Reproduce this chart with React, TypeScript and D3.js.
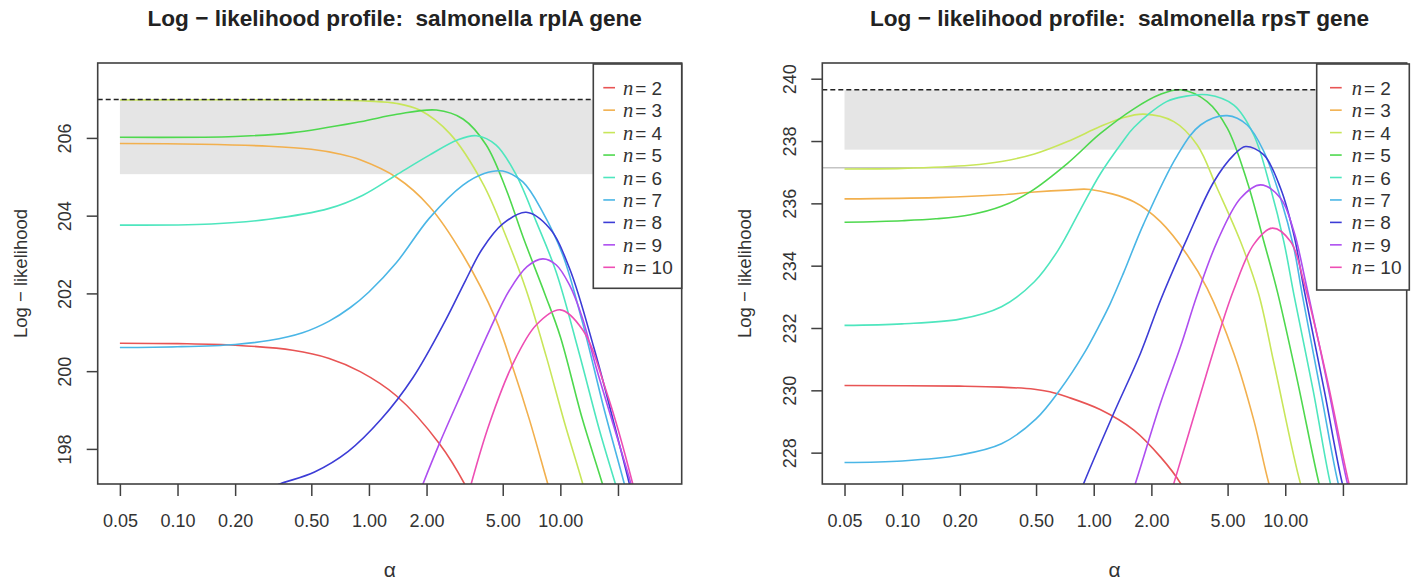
import { useEffect, useRef } from "react";
import * as d3 from "d3";

const nValues = [2, 3, 4, 5, 6, 7, 8, 9, 10];
const lineColors = ["#E85454", "#F2B04E", "#C8E65A", "#4ED84E", "#4EE6BE", "#4AB6E6", "#3C3CD6", "#AE4EF0", "#EE4EB4"];

const alphaTicks = [0.05, 0.1, 0.2, 0.5, 1, 2, 5, 10, 20];
const alphaTickLabels = ["0.05", "0.10", "0.20", "0.50", "1.00", "2.00", "5.00", "10.00", ""];

const rplA_yTicks = [198, 200, 202, 204, 206];
const rpsT_yTicks = [228, 230, 232, 234, 236, 238, 240];

const rplA_max = 207.0;
const rplA_ciLow = 205.08;
const rpsT_max = 239.66;
const rpsT_ciLow = 237.74;
const rpsT_refLine = 237.16;

// [alpha, log-likelihood]
const rplA_n2 = [[0.05, 200.73], [0.1, 200.72], [0.2, 200.68], [0.4, 200.55], [0.62, 200.34], [0.9, 200.0], [1.39, 199.38], [2.34, 198.14], [3.16, 197.11], [4, 196.0]];
const rplA_n3 = [[0.05, 205.87], [0.13, 205.85], [0.3, 205.8], [0.5, 205.72], [0.7, 205.6], [0.9, 205.45], [1.39, 205.0], [2.07, 204.25], [3.1, 203.0], [4.6, 201.35], [5.65, 200.1], [6.9, 198.76], [8.6, 197.11], [10, 196.0]];
const rplA_n4 = [[0.05, 206.99], [0.5, 206.99], [1.0, 206.96], [1.4, 206.9], [1.84, 206.73], [2.64, 206.13], [3.94, 204.84], [5.21, 203.47], [6.63, 202.1], [8.43, 200.4], [10.5, 198.7], [13.1, 197.11], [15, 196.0]];
const rplA_n5 = [[0.05, 206.03], [0.2, 206.05], [0.4, 206.15], [0.9, 206.43], [1.4, 206.62], [2.25, 206.73], [3.1, 206.5], [4.1, 205.83], [5.2, 204.7], [6.4, 203.45], [8.3, 202.0], [10, 200.9], [13, 198.8], [16.6, 197.11], [19, 196.1]];
const rplA_n6 = [[0.05, 203.77], [0.15, 203.8], [0.3, 203.92], [0.62, 204.2], [0.93, 204.54], [1.39, 205.06], [2.07, 205.57], [2.9, 205.96], [3.64, 206.07], [4.62, 205.83], [5.88, 205.06], [7.48, 203.86], [9.5, 202.57], [12.5, 200.5], [16, 198.5], [19.4, 197.11], [22, 196.2]];
const rplA_n7 = [[0.05, 200.62], [0.1, 200.64], [0.2, 200.7], [0.3, 200.8], [0.45, 201.0], [0.62, 201.3], [0.8, 201.65], [1.0, 202.05], [1.39, 202.8], [2.07, 203.95], [3.1, 204.8], [4.0, 205.1], [5.0, 205.16], [6.37, 204.88], [8.1, 204.1], [10.3, 203.0], [13, 201.3], [17, 199.0], [21.6, 197.11], [24, 196.2]];
const rplA_n8 = [[0.25, 196.85], [0.342, 197.11], [0.52, 197.42], [0.78, 197.95], [1.16, 198.78], [1.7, 199.85], [2.5, 201.3], [3.2, 202.35], [3.9, 203.15], [5.0, 203.8], [6.63, 204.1], [8.78, 203.69], [11.16, 202.66], [15, 200.6], [19, 198.7], [22.95, 197.11], [25, 196.3]];
const rplA_n9 = [[1.7, 196.45], [1.915, 197.11], [2.34, 198.16], [3.1, 199.53], [4.27, 201.07], [5.43, 202.1], [6.7, 202.7], [8.1, 202.9], [9.5, 202.75], [11.16, 202.23], [13, 201.4], [15.4, 200.1], [19, 198.6], [23.4, 197.11], [26, 196.2]];
const rplA_n10 = [[3.0, 196.0], [3.42, 197.11], [4.27, 198.68], [5.65, 200.2], [7.48, 201.2], [10, 201.59], [13.1, 201.07], [17.3, 199.53], [23.9, 197.11], [26, 196.3]];

const rpsT_n2 = [[0.05, 230.17], [0.2, 230.15], [0.33, 230.12], [0.49, 230.05], [0.59, 229.97], [0.73, 229.8], [1.08, 229.4], [1.62, 228.74], [2.23, 227.88], [2.84, 227.03], [3.3, 226.2]];
const rpsT_n3 = [[0.05, 236.16], [0.15, 236.2], [0.33, 236.29], [0.49, 236.38], [0.73, 236.44], [0.96, 236.46], [1.62, 236.07], [2.23, 235.43], [3.08, 234.36], [3.91, 233.29], [5.39, 231.2], [6.85, 229.06], [8.21, 227.03], [9.2, 226.1]];
const rpsT_n4 = [[0.05, 237.12], [0.1, 237.14], [0.227, 237.24], [0.33, 237.36], [0.49, 237.6], [0.73, 238.0], [1.08, 238.48], [1.4, 238.75], [1.82, 238.88], [2.62, 238.64], [3.47, 237.89], [4.41, 236.5], [5.84, 234.79], [7.27, 233.1], [8.72, 230.9], [12.0, 227.03], [13.5, 226.1]];
const rpsT_n5 = [[0.05, 235.41], [0.1, 235.46], [0.15, 235.52], [0.227, 235.65], [0.33, 235.92], [0.47, 236.4], [0.73, 237.3], [1.08, 238.25], [1.62, 239.05], [2.2, 239.5], [2.84, 239.66], [3.91, 239.28], [4.98, 238.43], [6.33, 236.71], [7.73, 234.79], [9.08, 233.2], [11.5, 230.4], [15, 227.03], [16.5, 226.1]];
const rpsT_n6 = [[0.05, 232.1], [0.1, 232.15], [0.2, 232.3], [0.33, 232.7], [0.49, 233.5], [0.65, 234.5], [0.85, 235.8], [1.08, 236.95], [1.4, 237.95], [1.62, 238.45], [2.4, 239.28], [3.0, 239.45], [3.91, 239.5], [5.39, 239.17], [6.85, 238.21], [8.38, 236.5], [9.83, 234.79], [11.1, 233.08], [14, 230.0], [17.2, 227.03], [19, 226.1]];
const rpsT_n7 = [[0.05, 227.7], [0.1, 227.75], [0.2, 227.94], [0.33, 228.3], [0.5, 229.1], [0.67, 230.05], [0.89, 231.2], [1.08, 232.15], [1.22, 232.8], [1.435, 233.8], [1.82, 235.35], [2.73, 237.55], [3.61, 238.53], [4.98, 238.83], [6.33, 238.53], [7.73, 237.68], [9.45, 236.18], [11.1, 234.57], [12.27, 233.08], [15.5, 229.8], [18.9, 227.03], [21, 226.1]];
const rpsT_n8 = [[0.8, 226.3], [0.887, 227.03], [1.272, 229.28], [1.753, 231.2], [2.23, 232.9], [3.08, 234.9], [4.24, 236.71], [5.39, 237.57], [6.2, 237.84], [7.73, 237.57], [9.45, 236.5], [11.1, 235.0], [12.5, 233.29], [16, 230.0], [19.85, 227.03], [22, 226.1]];
const rpsT_n9 = [[1.5, 226.3], [1.65, 227.03], [2.23, 229.6], [2.84, 231.42], [3.47, 233.08], [4.41, 234.79], [5.84, 236.18], [7.43, 236.61], [9.45, 236.18], [11.1, 235.11], [12.77, 233.5], [16.5, 230.3], [21.1, 227.03], [23, 226.2]];
const rpsT_n10 = [[2.4, 226.3], [2.62, 227.03], [3.61, 229.9], [4.59, 232.0], [5.39, 233.25], [6.85, 234.7], [8.55, 235.22], [10.66, 234.79], [12.5, 233.5], [16.5, 230.4], [21.5, 227.03], [23.5, 226.2]];

const rplA_curves = [rplA_n2, rplA_n3, rplA_n4, rplA_n5, rplA_n6, rplA_n7, rplA_n8, rplA_n9, rplA_n10];
const rpsT_curves = [rpsT_n2, rpsT_n3, rpsT_n4, rpsT_n5, rpsT_n6, rpsT_n7, rpsT_n8, rpsT_n9, rpsT_n10];

const FONT = "'Liberation Sans', Arial, Helvetica, sans-serif";
const INK = "#333";
const plotTop = 63;
const plotBottom = 484;

const panels = [
  {
    title: "Log − likelihood profile:  salmonella rplA gene",
    left: 97.7, right: 681.7,
    yDomain: [197.11, 207.94], yTicks: rplA_yTicks,
    curves: rplA_curves, max: rplA_max, ciLow: rplA_ciLow, refLine: null,
    legend: { x0: 593.3, x1: 681.7, y1: 288.3, seg: 10, txt: 29.7 },
  },
  {
    title: "Log − likelihood profile:  salmonella rpsT gene",
    left: 822.3, right: 1406.7,
    yDomain: [227.01, 240.52], yTicks: rpsT_yTicks,
    curves: rpsT_curves, max: rpsT_max, ciLow: rpsT_ciLow, refLine: rpsT_refLine,
    legend: { x0: 1316.7, x1: 1409.3, y1: 290, seg: 13.3, txt: 35 },
  },
];

function drawPanel(svg: any, p: any, idx: number) {
  const x = d3.scaleLog()
    .domain([Math.pow(10, -1.417), Math.pow(10, 1.634)])
    .range([p.left, p.right]);
  const y = d3.scaleLinear().domain(p.yDomain).range([plotBottom, plotTop]);

  const g = svg.append("g");
  const clipId = `plot-clip-${idx}`;
  g.append("clipPath").attr("id", clipId)
    .append("rect")
    .attr("x", p.left).attr("y", plotTop)
    .attr("width", p.right - p.left).attr("height", plotBottom - plotTop);

  // confidence band
  g.append("rect")
    .attr("x", x(0.05))
    .attr("width", x(20) - x(0.05))
    .attr("y", y(p.max))
    .attr("height", y(p.ciLow) - y(p.max))
    .attr("fill", "#e5e5e5");

  if (p.refLine != null) {
    g.append("line")
      .attr("x1", p.left).attr("x2", p.right)
      .attr("y1", y(p.refLine)).attr("y2", y(p.refLine))
      .attr("stroke", "#c4c4c4").attr("stroke-width", 1.5);
  }

  const line = d3.line<number[]>()
    .x((d) => x(d[0]))
    .y((d) => y(d[1]))
    .curve(d3.curveCatmullRom.alpha(0.5));

  g.append("g")
    .attr("clip-path", `url(#${clipId})`)
    .selectAll("path")
    .data(p.curves)
    .join("path")
    .attr("d", (d: number[][]) => line(d))
    .attr("fill", "none")
    .attr("stroke", (_: any, i: number) => lineColors[i])
    .attr("stroke-width", 1.6);

  // maximum likelihood
  g.append("line")
    .attr("x1", p.left).attr("x2", p.right)
    .attr("y1", y(p.max)).attr("y2", y(p.max))
    .attr("stroke", "#222").attr("stroke-width", 1.5)
    .attr("stroke-dasharray", "5,3");

  // box
  g.append("rect")
    .attr("x", p.left).attr("y", plotTop)
    .attr("width", p.right - p.left).attr("height", plotBottom - plotTop)
    .attr("fill", "none").attr("stroke", "#404040").attr("stroke-width", 1.6);

  // x axis
  g.append("g")
    .attr("transform", `translate(0,${plotBottom})`)
    .call(d3.axisBottom(x)
      .tickValues(alphaTicks)
      .tickFormat((_d: any, i: number) => alphaTickLabels[i])
      .tickSize(12)
      .tickPadding(18))
    .call((a: any) => a.select(".domain").remove())
    .attr("font-size", 18)
    .attr("font-family", FONT)
    .attr("color", INK)
    .call((a: any) => a.selectAll("line").attr("stroke", "#404040").attr("stroke-width", 1.5));

  // y axis
  const yAxis = g.append("g");
  yAxis.selectAll("line")
    .data(p.yTicks)
    .join("line")
    .attr("x1", p.left - 11).attr("x2", p.left)
    .attr("y1", (d: number) => y(d)).attr("y2", (d: number) => y(d))
    .attr("stroke", "#404040").attr("stroke-width", 1.5);
  yAxis.selectAll("text")
    .data(p.yTicks)
    .join("text")
    .attr("transform", (d: number) => `translate(${p.left - 26.5},${y(d)}) rotate(-90)`)
    .attr("text-anchor", "middle")
    .attr("font-size", 18)
    .attr("font-family", FONT)
    .attr("fill", INK)
    .text((d: number) => d);

  // axis titles
  g.append("text")
    .attr("transform", `translate(${p.left - 71},${(plotTop + plotBottom) / 2}) rotate(-90)`)
    .attr("text-anchor", "middle")
    .attr("font-size", 18.5)
    .attr("font-family", FONT)
    .attr("fill", INK)
    .text("Log − likelihood");

  g.append("text")
    .attr("x", (p.left + p.right) / 2)
    .attr("y", 577)
    .attr("text-anchor", "middle")
    .attr("font-size", 21)
    .attr("font-family", FONT)
    .attr("fill", INK)
    .text("α");

  g.append("text")
    .attr("x", (p.left + p.right) / 2 + 5)
    .attr("y", 26)
    .attr("text-anchor", "middle")
    .attr("font-size", 22.6)
    .attr("font-weight", "bold")
    .attr("font-family", FONT)
    .attr("fill", "#222")
    .style("white-space", "pre")
    .text(p.title);

  // legend
  const L = p.legend;
  g.append("rect")
    .attr("x", L.x0).attr("y", plotTop + 1)
    .attr("width", L.x1 - L.x0).attr("height", L.y1 - plotTop - 1)
    .attr("fill", "#fff").attr("stroke", "#404040").attr("stroke-width", 1.6);

  const entries = g.append("g")
    .selectAll("g")
    .data(nValues)
    .join("g")
    .attr("transform", (_: any, i: number) => `translate(0,${87.7 + i * 22.45})`);
  entries.append("line")
    .attr("x1", L.x0 + L.seg).attr("x2", L.x0 + L.seg + 11.7)
    .attr("y1", 0).attr("y2", 0)
    .attr("stroke", (_: any, i: number) => lineColors[i])
    .attr("stroke-width", 1.6);
  const label = entries.append("text")
    .attr("x", L.x0 + L.txt)
    .attr("y", 7)
    .attr("font-size", 19)
    .attr("font-family", FONT)
    .attr("fill", INK);
  label.append("tspan")
    .attr("font-family", "'Liberation Serif', 'DejaVu Serif', serif")
    .attr("font-style", "italic")
    .attr("font-size", 20.5)
    .text("n");
  label.append("tspan")
    .attr("dx", 2)
    .text((d: number) => `= ${d}`);
}

export default function App() {
  const svgRef = useRef<SVGSVGElement>(null);

  useEffect(() => {
    const svg = d3.select(svgRef.current);
    svg.selectAll("*").remove();
    panels.forEach((p, i) => drawPanel(svg, p, i));
  }, []);

  return (
    <svg
      ref={svgRef}
      width={1417}
      height={586}
      style={{ position: "absolute", left: 0, top: 0, background: "#fff" }}
    />
  );
}
